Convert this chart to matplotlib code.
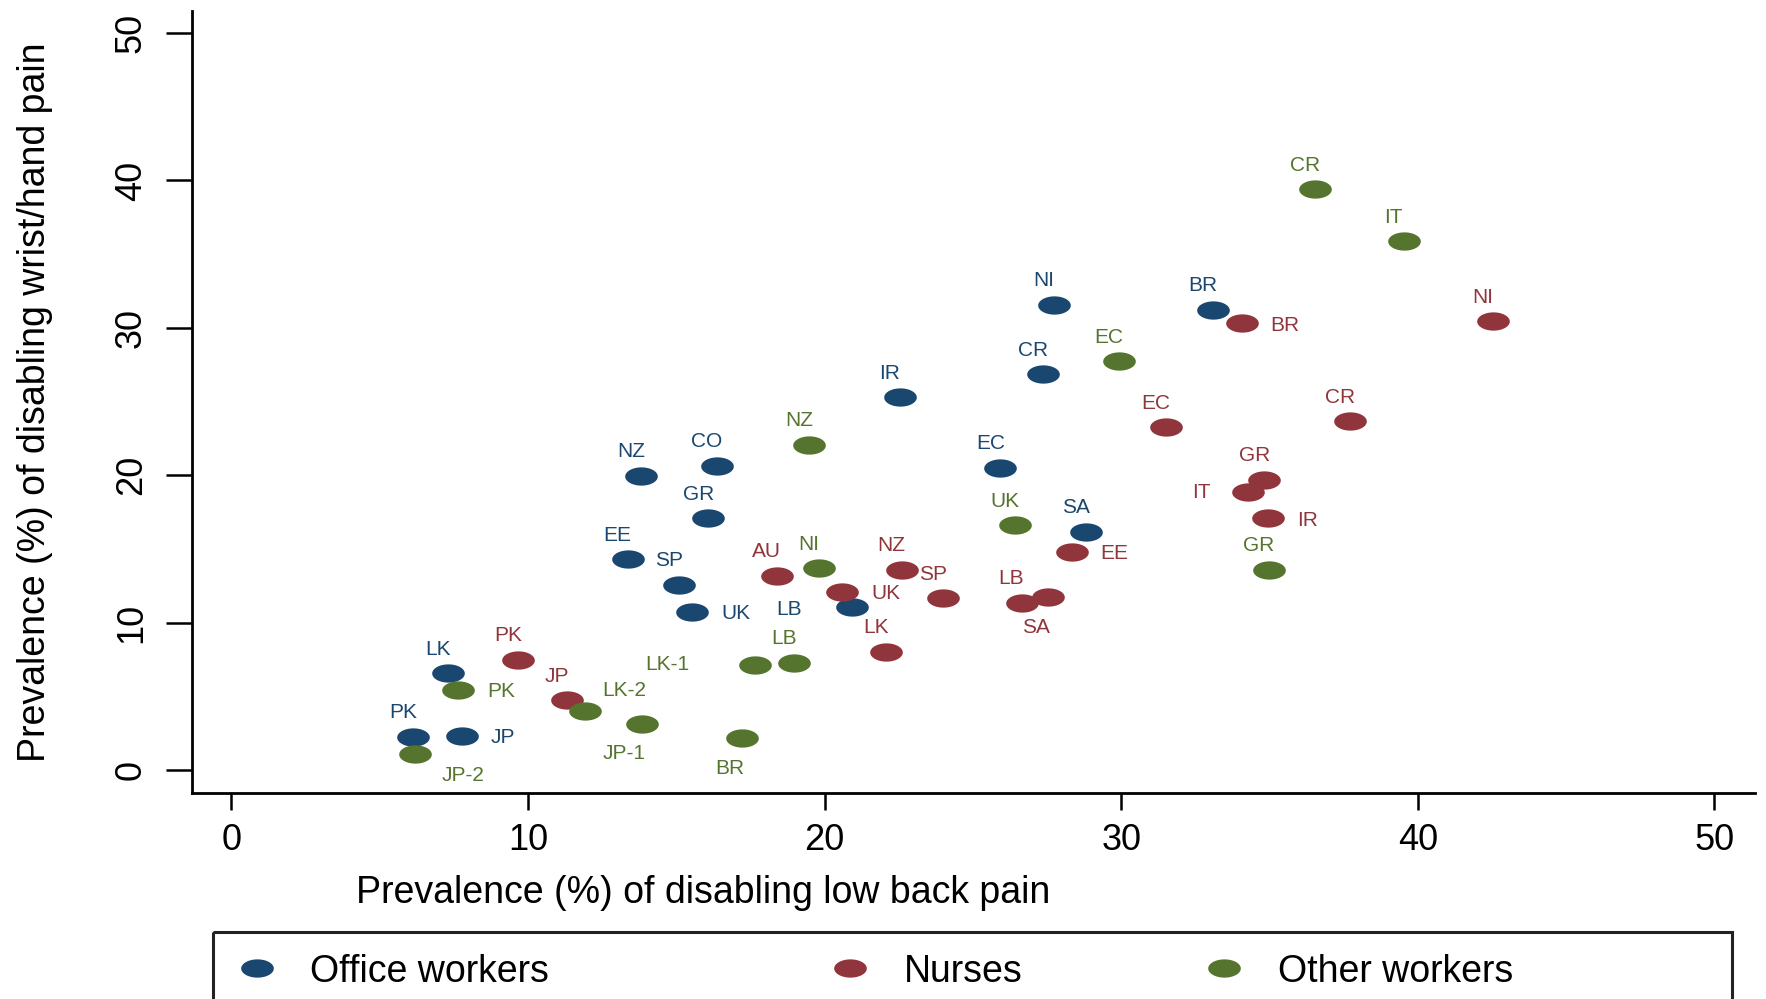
import numpy as np
import matplotlib
matplotlib.use("Agg")
import matplotlib.pyplot as plt
from matplotlib.path import Path
from matplotlib.patches import Rectangle

plt.rcParams['font.family'] = ['Liberation Sans', 'DejaVu Sans']

# ---- data -------------------------------------------------------------
groups = ["Office workers", "Nurses", "Other workers"]
colors = ["#1a476f", "#90353b", "#55752f"]

office_codes = ["PK", "JP", "LK", "EE", "SP", "UK", "NZ", "CO", "GR", "LB",
                "IR", "EC", "CR", "NI", "SA", "BR"]
office_lbp = [6.13, 7.76, 7.31, 13.36, 15.10, 15.54, 13.81, 16.36, 16.08, 20.93,
              22.54, 25.93, 27.35, 27.73, 28.81, 33.10]
office_hand = [2.26, 2.31, 6.56, 14.30, 12.56, 10.75, 19.96, 20.64, 17.09, 11.05,
               25.28, 20.52, 26.86, 31.57, 16.18, 31.23]

nurse_codes = ["PK", "JP", "AU", "UK", "LK", "NZ", "SP", "LB", "SA", "EE",
               "EC", "BR", "IT", "GR", "IR", "CR", "NI"]
nurse_lbp = [9.67, 11.30, 18.38, 20.60, 22.07, 22.60, 24.00, 26.64, 27.54, 28.33,
             31.51, 34.06, 34.28, 34.82, 34.96, 37.71, 42.54]
nurse_hand = [7.47, 4.75, 13.17, 12.10, 8.03, 13.58, 11.66, 11.36, 11.72, 14.82,
              23.24, 30.33, 18.83, 19.69, 17.09, 23.65, 30.44]

other_codes = ["JP-2", "PK", "LK-2", "JP-1", "LK-1", "LB", "BR", "NI", "NZ", "UK",
               "EC", "GR", "IT", "CR"]
other_lbp = [6.19, 7.65, 11.92, 13.85, 17.65, 18.98, 17.22, 19.80, 19.48, 26.42,
             29.93, 34.98, 39.53, 36.55]
other_hand = [1.09, 5.43, 4.00, 3.12, 7.13, 7.28, 2.15, 13.69, 22.06, 16.61,
              27.72, 13.58, 35.87, 39.42]

x_ticks = [0, 10, 20, 30, 40, 50]
y_ticks = [0, 10, 20, 30, 40, 50]

# marker-label clock positions (Stata style)
office_clock = [12, 3, 12, 12, 12, 3, 12, 12, 12, 9, 12, 12, 12, 12, 12, 12]
nurse_clock = [12, 12, 12, 3, 12, 12, 12, 12, 6, 3, 12, 3, 9, 12, 3, 12, 12]
other_clock = [5, 3, 1, 7, 9, 12, 6, 12, 12, 12, 12, 12, 12, 12]

# ---- styling ----------------------------------------------------------
W, H = 1766, 999
fig = plt.figure(figsize=(W / 100, H / 100), dpi=100)
fig.patch.set_facecolor("white")

ax_l, ax_r, ax_b, ax_t = 192, 1755, 793, 11
ax = fig.add_axes([ax_l / W, (H - ax_b) / H, (ax_r - ax_l) / W, (ax_b - ax_t) / H])
ax.set_xlim(-1.33, 51.37)
ax.set_ylim(-1.56, 51.5)

# elliptical marker
t = np.linspace(0, 2 * np.pi, 60)
ell = Path(np.column_stack([np.cos(t), 0.56 * np.sin(t)]), closed=True)
msize = 23.5 ** 2

# pixel offsets for each clock position: (dx, dy, ha)
clock_off = {
    12: (-10, 24, "center"),
    3: (29, -2, "left"),
    9: (-38, 0, "right"),
    6: (-12, -30, "center"),
    5: (48, -22, "center"),
    1: (39, 21, "center"),
    7: (-18, -29, "center"),
}
label_override = {
    ("Office workers", "LB"): (-50, -2, "right"),
    ("Other workers", "LK-1"): (-66, 0, "right"),
}

series = [
    (office_codes, office_lbp, office_hand, office_clock),
    (nurse_codes, nurse_lbp, nurse_hand, nurse_clock),
    (other_codes, other_lbp, other_hand, other_clock),
]

for name, col, (codes, xs, ys, clk) in zip(groups, colors, series):
    ax.scatter(xs, ys, s=msize, marker=ell, color=col, linewidths=0, zorder=3)
    for code, xv, yv, c in zip(codes, xs, ys, clk):
        dx, dy, ha = label_override.get((name, code), clock_off[c])
        ax.annotate(code, (xv, yv), xytext=(dx, dy), textcoords="offset pixels",
                    ha=ha, va="center", fontsize=15, color=col, zorder=4)

for side in ("top", "right"):
    ax.spines[side].set_visible(False)
for side in ("left", "bottom"):
    ax.spines[side].set_linewidth(2.0)

ax.set_xticks(x_ticks)
ax.set_yticks(y_ticks)
ax.tick_params(axis="x", length=12, width=1.8, pad=9.5, labelsize=26)
ax.tick_params(axis="y", length=19, width=1.8, pad=12, labelsize=26)
for lab in ax.get_yticklabels():
    lab.set_rotation(90)
    lab.set_va("center")

ax.set_xlabel("Prevalence (%) of disabling low back pain", fontsize=27)
ax.xaxis.set_label_coords((703.5 - ax_l) / (ax_r - ax_l), (ax_b - 875) / (ax_b - ax_t))
ax.set_ylabel("Prevalence (%) of disabling wrist/hand pain", fontsize=27)
ax.yaxis.set_label_coords((53 - ax_l) / (ax_r - ax_l), 0.5)

# ---- legend box (runs off the bottom edge) ----------------------------
lax = fig.add_axes([0, 0, 1, 1], zorder=5)
lax.set_xlim(0, W)
lax.set_ylim(H, 0)
lax.axis("off")
lax.patch.set_visible(False)
lax.add_patch(Rectangle((213, 932), 1732 - 213, 200, fill=False,
                        lw=2.2, edgecolor="#222222", clip_on=False))
leg_marker_x = [257, 850, 1224]
leg_text_x = [310, 904, 1278]
for name, col, mx, tx in zip(groups, colors, leg_marker_x, leg_text_x):
    lax.scatter([mx], [968], s=msize, marker=ell, color=col, linewidths=0)
    lax.text(tx, 982, name, fontsize=27, ha="left", va="baseline", color="black")

fig.savefig("out.png", dpi=100, facecolor="white")
